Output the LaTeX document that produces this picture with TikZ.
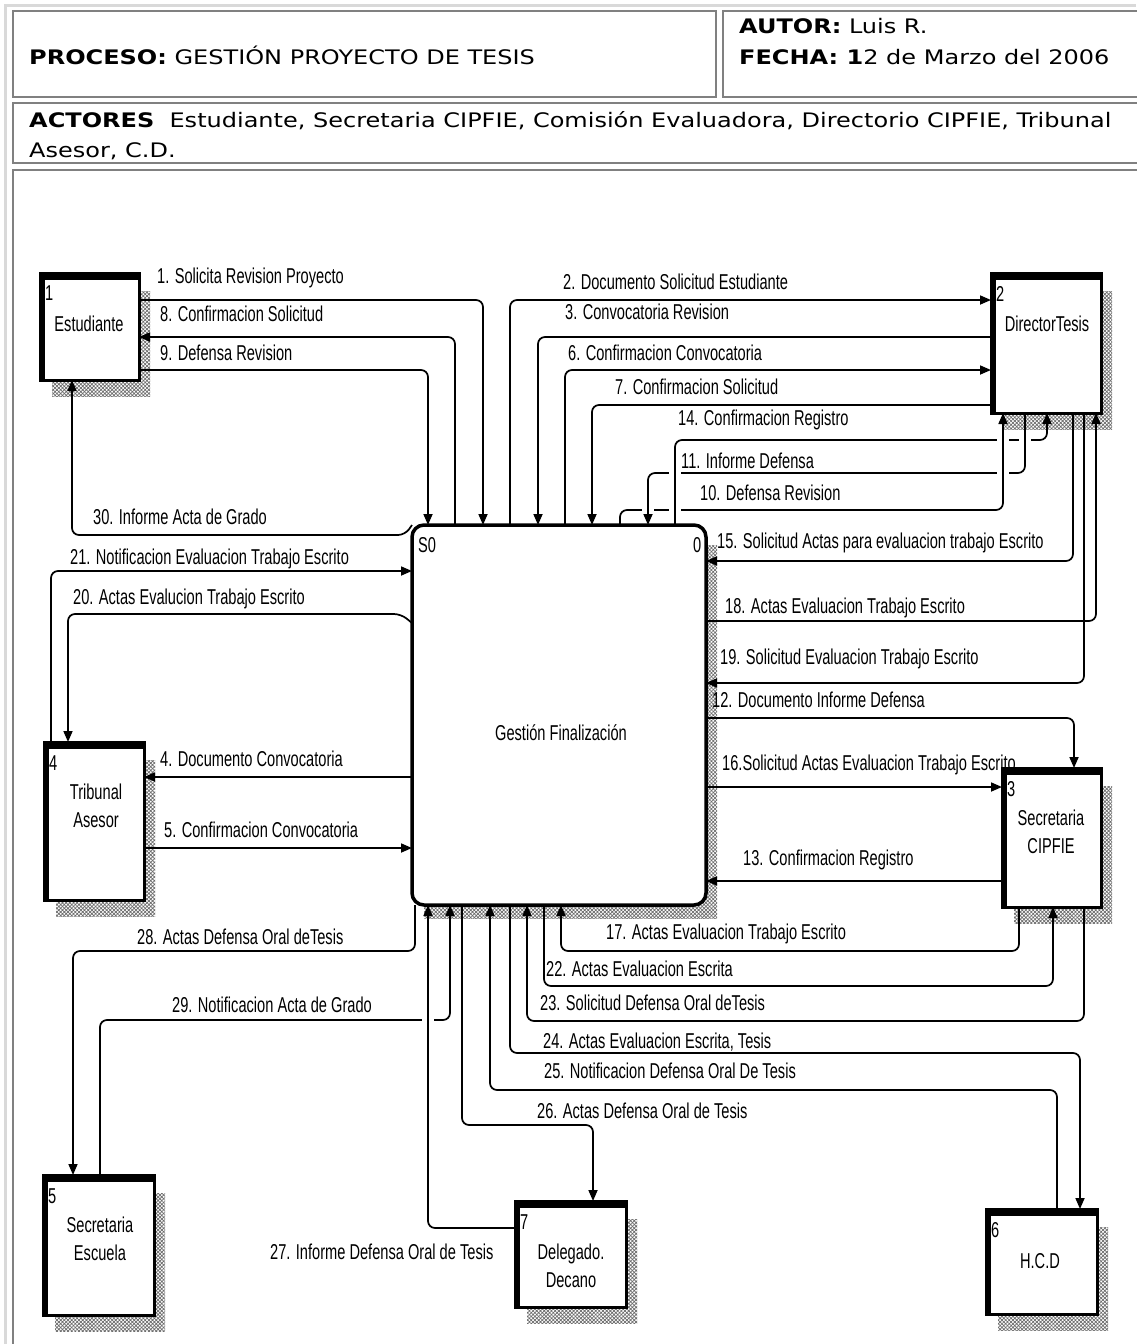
\documentclass[tikz,border=0pt]{standalone}
\usepackage{fontspec}
\setmainfont{DejaVu Sans}
\newfontfamily\hdrfont[FakeStretch=1.2]{DejaVu Sans}
\newfontfamily\lblfont[FakeStretch=0.68]{Liberation Sans}
\usetikzlibrary{arrows.meta,patterns.meta,fit}

% external entity: shadow, box with heavy top/left edge, number and name
% #1 name, #2..#5 corners x1 y1 x2 y2, #6 number, #7 name text, #8 text centre
\newcommand\extentity[8]{%
  \fill[hatch] (#2+12,#3+18) rectangle (#4+11,#5+16);
  \node[entity, fit={(#2,#3) (#4,#5)}] (#1) {};
  \fill (#2-1.5,#3-1.5) rectangle (#4+1.5,#3+7);
  \fill (#2-1.5,#3-1.5) rectangle (#2+5,#5+1.5);
  \node[lbl, anchor=north west] (#1-num) at (#2+5,#3+13) {#6};
  \node[lbl, anchor=center, align=center] (#1-txt) at #8 {#7};
}

\begin{document}
\begin{tikzpicture}[x=1pt,y=-1pt,
  flow/.style={draw=black, line width=1.7pt, rounded corners=7pt},
  tip/.style={-{Triangle[length=11pt,width=9pt]}},
  lbl/.style={font=\lblfont\fontsize{21.5}{28}\selectfont, inner sep=0pt, anchor=base west},
  hdr/.style={font=\hdrfont\fontsize{20}{24}\selectfont, inner sep=0pt, anchor=base west},
  entity/.style={draw, line width=3pt, fill=white, inner sep=0pt, outer sep=0pt},
  process/.style={draw, line width=3.5pt, fill=white, rounded corners=12pt, inner sep=0pt, outer sep=0pt},
  hatch/.style={pattern={Hatch[distance=2.6pt,angle=45,line width=0.7pt]}, pattern color=gray!85!black},
  cell/.style={draw=gray, line width=2pt},
]
% page and table frame
\fill[white] (0,0) rectangle (1136,1344);
\useasboundingbox (0,0) rectangle (1136,1344);
\draw[gray!30, line width=3pt] (5,1344) -- (5,5) -- (1136,5);
\draw[cell] (13,11) rectangle (716,97);
\draw[cell] (723,11) rectangle (1142,97);
\draw[cell] (13,103) rectangle (1142,163);
\draw[cell] (13,170) rectangle (1142,1350);

% header
\node[hdr] (proceso) at (29,64) {\textbf{PROCESO:} GESTIÓN PROYECTO DE TESIS};
\node[hdr] (autor) at (739,33) {\textbf{AUTOR:} Luis R.};
\node[hdr] (fecha) at (739,64) {\textbf{FECHA: 1}2 de Marzo del 2006};
\node[hdr] (actores) at (29,127) {\textbf{ACTORES}\ \ Estudiante, Secretaria CIPFIE, Comisión Evaluadora, Directorio CIPFIE, Tribunal};
\node[hdr] (actores2) at (29,157) {Asesor, C.D.};

% process
\fill[hatch] (424,545) rectangle (717,918);
\node[process, fit={(412,525) (706,905)}] (proc) {};
\node[lbl] (proc-id) at (418,552) {S0};
\node[lbl] (proc-num) at (693,552) {0};
\node[lbl, anchor=center] (proc-txt) at (561,733) {Gestión Finalización};

% external entities
\extentity{est}{40}{273}{139}{380}{1}{Estudiante}{(89,324)}
\extentity{dir}{991}{273}{1101}{413}{2}{DirectorTesis}{(1047,324)}
\extentity{sec}{1002}{768}{1101}{907}{3}{Secretaria\\CIPFIE}{(1051,832)}
\extentity{tri}{44}{742}{144}{900}{4}{Tribunal\\Asesor}{(96,806)}
\extentity{esc}{43}{1175}{154}{1315}{5}{Secretaria\\Escuela}{(100,1239)}
\extentity{hcd}{986}{1209}{1097}{1314}{6}{H.C.D}{(1040,1261)}
\extentity{del}{515}{1201}{626}{1307}{7}{Delegado.\\Decano}{(571,1266)}

% flows above the process
\draw[flow,tip] (est.east |- 0,300) -- (483,300) -- (proc.north -| 483,0);
\draw[flow,tip] (proc.north -| 455,0) -- (455,337) -- (est.east |- 0,337);
\draw[flow,tip] (est.east |- 0,370) -- (428,370) -- (proc.north -| 428,0);
\draw[flow,tip] (proc.north -| 510,0) -- (510,300) -- (dir.west |- 0,300);
\draw[flow,tip] (dir.west |- 0,337) -- (538,337) -- (proc.north -| 538,0);
\draw[flow,tip] (proc.north -| 565,0) -- (565,370) -- (dir.west |- 0,370);
\draw[flow,tip] (dir.west |- 0,405) -- (592,405) -- (proc.north -| 592,0);
\draw[flow,tip] (proc.north -| 620,0) -- (620,510) -- (1003,510) -- (dir.south -| 1003,0);
\draw[flow,tip] (dir.south -| 1025,0) -- (1025,473) -- (648,473) -- (proc.north -| 648,0);
\draw[flow,tip] (proc.north -| 675,0) -- (675,440) -- (1047,440) -- (dir.south -| 1047,0);

% flows on the right
\draw[flow,tip] (dir.south -| 1073,0) -- (1073,561) -- (proc.east |- 0,561);
\draw[flow,tip] (proc.east |- 0,621) -- (1096,621) -- (dir.south -| 1096,0);
\draw[flow,tip] (dir.south -| 1084,0) -- (1084,683) -- (proc.east |- 0,683);
\draw[flow,tip] (proc.east |- 0,718) -- (1074,718) -- (sec.north -| 1074,0);
\draw[flow,tip] (proc.east |- 0,787) -- (sec.west |- 0,787);
\draw[flow,tip] (sec.west |- 0,881) -- (proc.east |- 0,881);

% flows on the left
\draw[flow,tip] (proc.north west) -- (405,535) -- (72,535) -- (est.south -| 72,0);
\draw[flow,tip] (tri.north -| 51,0) -- (51,571) -- (proc.west |- 0,571);
\draw[flow,tip] (proc.west |- 0,623) -- (401,614) -- (68,614) -- (tri.north -| 68,0);
\draw[flow,tip] (proc.west |- 0,777) -- (tri.east |- 0,777);
\draw[flow,tip] (tri.east |- 0,848) -- (proc.west |- 0,848);

% flows below the process
\draw[flow,tip] (sec.south -| 1019,0) -- (1019,951) -- (561,951) -- (proc.south -| 561,0);
\draw[flow,tip] (proc.south -| 544,0) -- (544,986) -- (1053,986) -- (sec.south -| 1053,0);
\draw[flow,tip] (sec.south -| 1084,0) -- (1084,1021) -- (527,1021) -- (proc.south -| 527,0);
\draw[flow,tip] (proc.south -| 510,0) -- (510,1053) -- (1080,1053) -- (hcd.north -| 1080,0);
\draw[flow,tip] (hcd.north -| 1057,0) -- (1057,1090) -- (490,1090) -- (proc.south -| 490,0);
\draw[flow,tip] (proc.south -| 462,0) -- (462,1125) -- (593,1125) -- (del.north -| 593,0);
\draw[flow,tip] (del.west |- 0,1228) -- (428,1228) -- (proc.south -| 428,0);
\draw[flow,tip] (proc.south -| 415,0) -- (415,951) -- (73,951) -- (esc.north -| 73,0);
\draw[flow,tip] (esc.north -| 100,0) -- (100,1020) -- (450,1020) -- (proc.south -| 450,0);

% line jumps where a horizontal run passes a vertical one
\foreach \jx/\jy in {1003/440, 1025/440, 675/473, 1003/473, 648/510, 675/510, 428/1020}{
  \fill[white] (\jx-6,\jy-2.5) rectangle (\jx+6,\jy+2.5);
  \draw[line width=1.7pt] (\jx,\jy-4) -- (\jx,\jy+4);
}

% flow labels
\node[lbl] (l1) at (157,283) {1. Solicita Revision Proyecto};
\node[lbl] (l8) at (160,321) {8. Confirmacion Solicitud};
\node[lbl] (l9) at (160,360) {9. Defensa Revision};
\node[lbl] (l30) at (93,524) {30. Informe Acta de Grado};
\node[lbl] (l21) at (70,564) {21. Notificacion Evaluacion Trabajo Escrito};
\node[lbl] (l20) at (73,604) {20. Actas Evalucion Trabajo Escrito};
\node[lbl] (l4) at (160,766) {4. Documento Convocatoria};
\node[lbl] (l5) at (164,837) {5. Confirmacion Convocatoria};
\node[lbl] (l2) at (563,289) {2. Documento Solicitud Estudiante};
\node[lbl] (l3) at (565,319) {3. Convocatoria Revision};
\node[lbl] (l6) at (568,360) {6. Confirmacion Convocatoria};
\node[lbl] (l7) at (615,394) {7. Confirmacion Solicitud};
\node[lbl] (l14) at (678,425) {14. Confirmacion Registro};
\node[lbl] (l11) at (681,468) {11. Informe Defensa};
\node[lbl] (l10) at (700,500) {10. Defensa Revision};
\node[lbl] (l15) at (717,548) {15. Solicitud Actas para evaluacion trabajo Escrito};
\node[lbl] (l18) at (725,613) {18. Actas Evaluacion Trabajo Escrito};
\node[lbl] (l19) at (720,664) {19. Solicitud Evaluacion Trabajo Escrito};
\node[lbl] (l12) at (712,707) {12. Documento Informe Defensa};
\node[lbl] (l16) at (722,770) {16.Solicitud Actas Evaluacion Trabajo Escrito};
\node[lbl] (l13) at (743,865) {13. Confirmacion Registro};
\node[lbl] (l17) at (606,939) {17. Actas Evaluacion Trabajo Escrito};
\node[lbl] (l22) at (546,976) {22. Actas Evaluacion Escrita};
\node[lbl] (l23) at (540,1010) {23. Solicitud Defensa Oral deTesis};
\node[lbl] (l24) at (543,1048) {24. Actas Evaluacion Escrita, Tesis};
\node[lbl] (l25) at (544,1078) {25. Notificacion Defensa Oral De Tesis};
\node[lbl] (l26) at (537,1118) {26. Actas Defensa Oral de Tesis};
\node[lbl] (l28) at (137,944) {28. Actas Defensa Oral deTesis};
\node[lbl] (l29) at (172,1012) {29. Notificacion Acta de Grado};
\node[lbl] (l27) at (270,1259) {27. Informe Defensa Oral de Tesis};
\end{tikzpicture}
\end{document}
